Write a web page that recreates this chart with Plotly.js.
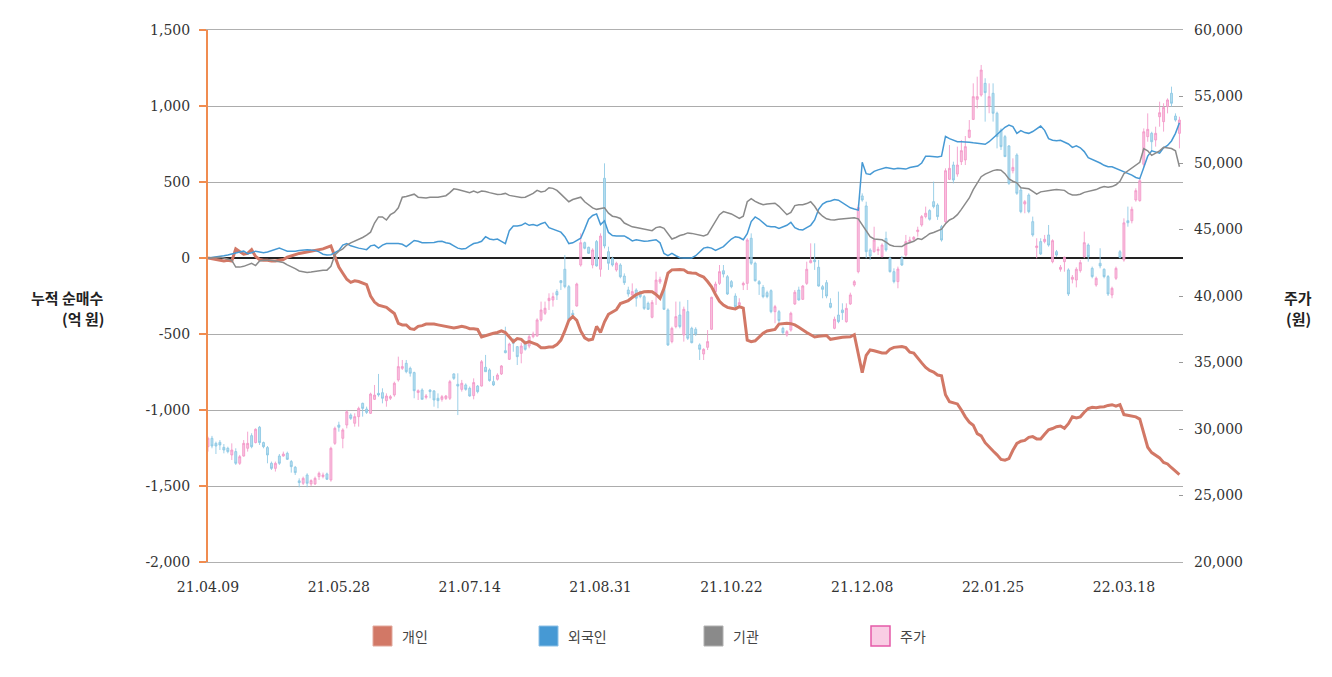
<!DOCTYPE html>
<html>
<head>
<meta charset="utf-8">
<script src="https://cdn.plot.ly/plotly-3.0.1.min.js"></script>
<style>html,body{margin:0;padding:0;background:#fff;}#chart{width:1332px;height:677px;}</style>
</head>
<body>
<div id="chart"></div>
<script>
// ---- data ----
const seriesNames = ['개인', '외국인', '기관', '주가'];
const tickIndex = [0, 33, 66, 99, 132, 165, 198, 231];
const tickDates = ['21.04.09', '21.05.28', '21.07.14', '21.08.31', '21.10.22', '21.12.08', '22.01.25', '22.03.18'];
const netTicks = [-2000, -1500, -1000, -500, 0, 500, 1000, 1500];
const netTickText = ['-2,000', '-1,500', '-1,000', '-500', '0', '500', '1,000', '1,500'];
const leftTitle = ['누적 순매수', '(억 원)'];
const rightTitle = ['주가', '(원)'];

// cumulative net buying (억 원), one value per trading day
const individual = [
0,-5,-15,-15,-20,-15,-20,60,45,25,
30,55,10,-10,-15,-15,-20,-20,-15,-10,
5,15,25,30,35,40,45,50,55,60,
70,80,10,-60,-100,-140,-160,-150,-155,-165,
-175,-250,-290,-310,-315,-325,-345,-365,-430,-440,
-440,-465,-470,-450,-445,-435,-435,-435,-440,-445,
-450,-455,-460,-455,-450,-455,-465,-465,-470,-520,
-510,-500,-495,-490,-480,-490,-520,-550,-530,-535,
-560,-550,-560,-570,-590,-590,-585,-585,-570,-540,
-480,-410,-385,-410,-480,-525,-540,-535,-450,-490,
-420,-370,-355,-340,-300,-290,-280,-260,-240,-230,
-222,-220,-222,-240,-265,-200,-100,-78,-75,-75,
-78,-95,-98,-100,-115,-125,-155,-190,-240,-285,
-310,-325,-330,-335,-320,-330,-540,-550,-545,-520,
-495,-480,-475,-470,-435,-432,-430,-432,-440,-455,
-475,-490,-505,-520,-515,-512,-510,-535,-530,-528,
-522,-520,-518,-505,-640,-755,-640,-605,-610,-618,
-625,-625,-600,-588,-585,-582,-590,-620,-625,-660,
-690,-720,-740,-750,-770,-775,-900,-945,-955,-960,
-1000,-1045,-1080,-1100,-1155,-1170,-1215,-1245,-1270,-1295,
-1325,-1330,-1320,-1265,-1220,-1205,-1200,-1180,-1175,-1190,
-1190,-1160,-1130,-1122,-1110,-1105,-1120,-1090,-1045,-1052,
-1045,-1015,-990,-982,-985,-980,-978,-970,-965,-975,
-965,-1030,-1035,-1035,-1045,-1060,-1150,-1245,-1280,-1295,
-1315,-1345,-1355,-1380,-1400,-1425
];
const foreign = [
0,3,5,10,15,20,28,35,40,45,
28,35,45,40,35,40,50,60,65,55,
45,45,45,50,55,55,52,50,40,25,
20,22,35,50,85,95,80,70,65,60,
55,80,85,65,85,95,95,95,95,90,
75,95,115,110,100,100,100,102,108,110,
100,95,80,65,60,62,80,95,100,110,
140,125,120,125,110,95,180,210,210,215,
230,215,220,212,225,235,200,190,185,170,
140,95,100,115,130,190,255,280,290,220,
245,168,148,145,145,145,130,112,120,115,
110,112,118,120,100,30,15,30,15,2,
0,0,0,15,40,65,70,65,50,60,
75,100,125,140,135,120,160,240,270,255,
230,210,205,205,195,205,215,235,200,188,
185,200,215,250,320,355,370,375,385,380,
365,345,330,322,315,630,555,550,570,580,
585,595,590,585,590,588,585,595,600,605,
625,670,670,668,665,670,800,785,775,765,
765,765,762,758,755,750,748,765,790,815,
835,860,875,865,820,838,825,820,832,850,
868,840,785,775,772,775,765,750,728,738,
725,700,660,648,640,625,610,600,600,590,
575,565,555,545,530,522,595,670,705,695,
690,725,740,770,820,890
];
const institution = [
0,3,5,5,0,-10,-15,-60,-60,-55,
-45,-35,-50,-20,-15,-15,-15,-20,-25,-30,
-45,-55,-70,-85,-92,-95,-92,-88,-80,-80,
-80,-55,20,45,60,85,100,110,125,135,
150,170,230,270,270,250,285,300,330,400,
405,410,420,400,395,395,400,400,400,405,
410,430,455,450,445,440,430,440,430,440,
438,430,425,418,420,425,412,408,405,398,
400,410,425,445,435,440,462,458,445,420,
395,370,385,395,400,370,350,330,320,325,
330,295,275,270,260,230,215,205,200,195,
185,182,180,200,205,195,160,125,135,148,
155,165,162,155,148,145,155,200,245,285,
305,300,290,275,260,275,370,390,372,360,
350,355,358,360,340,310,285,300,345,350,
350,358,370,340,300,275,258,252,250,255,
258,262,265,265,258,220,175,140,125,122,
120,105,85,78,75,75,92,100,110,128,
122,140,160,168,180,190,225,250,262,285,
320,355,395,450,490,535,552,565,575,580,
578,555,520,505,495,462,460,455,438,420,
435,440,445,448,450,448,445,425,415,415,
420,432,438,440,450,462,470,465,470,482,
505,555,575,595,615,630,720,705,675,690,
705,728,725,720,705,600
];

// stock price (원): open, high, low, close per trading day
const priceOpen = [
28670,29300,28920,29000,28620,28550,28050,28300,27420,27970,
28550,29500,28980,30130,28980,28600,27420,27040,27970,27970,
28170,27550,27120,26100,25920,26540,25870,25870,26420,26420,
26620,26170,28920,30300,29300,30300,31050,30430,30930,31930,
31500,31180,32230,32680,32730,32130,32310,32560,33690,34560,
34940,34560,34240,32740,32930,32380,32930,32860,32310,32230,
32300,32310,34140,33360,32980,33310,33060,32510,33230,33230,
34640,34440,33560,33740,34140,35890,35240,36690,36190,35690,
36490,36240,36940,36990,38200,38700,39650,39700,40330,41150,
42010,40700,38700,39250,42330,44010,43660,42330,44090,42010,
48850,43330,42830,41960,42330,41500,40450,40080,40450,40330,
39950,39450,38400,40200,41050,40500,38950,36570,37700,38570,
37070,38820,37570,37500,36320,35640,36140,37500,40330,40950,
41900,41450,41080,40000,39330,40830,40950,44340,42460,41080,
40650,40250,40400,38820,38820,37570,37070,37440,39400,40450,
39750,40950,42500,42710,42160,40700,41000,39450,37570,38570,
38950,38070,39400,40830,41830,47520,46770,43460,43330,43410,
42960,44330,42840,41830,41080,42840,43080,44090,44260,44840,
45340,45970,46420,47090,46840,45210,45590,48770,49850,49170,
50100,50230,51930,53280,54790,55110,55990,54290,55240,53740,
52480,51980,51280,49420,50600,47970,46920,47590,45590,43640,
44090,44090,44590,42580,43330,42010,42580,41960,41260,41200,
41910,42960,43830,42080,40830,42460,42010,41460,40080,41330,
43330,42710,45660,45660,47220,47170,49900,51980,52230,51730,
53480,53110,54240,55240,53530,52230
];
const priceHigh = [
29420,29480,29050,29170,28870,28670,28920,28550,28050,29170,
29800,29680,30050,30230,29050,28720,27550,27550,28120,28300,
28300,27670,27220,26290,26420,26670,26220,26420,26800,26720,
26720,28670,30180,30550,30050,31430,31180,31180,31680,31980,
31680,32730,33310,34140,33060,32680,32560,33560,35440,35190,
35190,34690,34310,32980,33060,32630,32980,32930,32680,32560,
32560,33690,34190,34190,33690,33430,33190,33810,33310,35190,
35570,34560,33990,34190,34810,37690,36490,36820,36240,36490,
36640,37070,37320,38320,39580,39580,40200,40250,40500,41200,
43080,40830,38950,41000,44710,44090,43710,43590,44210,44710,
49975,43710,42960,42580,42460,41700,40700,40950,40580,40400,
40080,39580,39700,41830,41450,40700,39070,37690,39580,39580,
39200,39700,37690,37650,36440,36070,37440,39950,41080,42330,
42330,41580,41200,40200,39830,41080,44340,44710,42580,41200,
40830,40400,40500,39330,38950,37690,37440,38820,40450,40700,
40830,42580,43960,43960,42710,40830,41200,39830,38450,40330,
39450,39450,40250,41200,46900,47720,47090,43590,45210,43710,
43960,44840,42960,42080,42210,43010,44590,44460,44510,45210,
46090,46720,46520,48600,46970,45340,49600,51350,50100,51230,
51730,52030,53230,55990,56490,57370,56370,55990,55990,53860,
52610,52110,51350,50350,50730,48220,47220,47720,45970,44340,
44340,44590,45340,44260,43460,42330,42960,42080,41580,42160,
42710,44840,43960,42210,41460,43590,42080,41580,40700,42210,
43460,45840,46720,46720,48100,48850,52600,53730,52350,52730,
54610,54490,54860,55740,53730,53480
];
const priceLow = [
28300,28550,28120,28420,28170,28170,27670,27300,27300,27920,
28300,28550,28920,28800,28550,27420,26920,26800,27300,27920,
27670,26720,26540,25620,25790,25620,25720,25790,26170,26290,
26170,26040,28800,29800,28550,30050,30680,30180,30180,30930,
31130,31130,32180,32430,31930,31680,32180,32430,33560,34440,
34190,33940,32310,32180,32230,32230,32310,31680,31560,32060,
32180,32180,33690,31050,32810,32880,32430,32230,32680,33190,
34310,33560,33230,33640,34060,35690,35190,35810,34810,34940,
35890,36070,36820,36940,38070,38570,38950,39200,39700,40450,
40580,38070,38450,39200,42210,43510,43160,42080,42210,41450,
43580,41960,42210,41830,41330,40830,39950,39950,39200,39830,
38950,38950,38320,39330,40900,38950,36240,36440,37570,37570,
36570,36690,36440,37000,35190,35190,35940,37450,40080,40830,
41400,40080,40580,39070,39070,40450,40450,42330,41080,40080,
39830,39830,38700,37950,37820,37150,36940,37320,39330,39650,
39700,40830,42460,41960,40700,39830,39830,39070,37500,37950,
38200,37990,39330,40700,41700,47090,42830,42710,43260,43080,
42910,43330,41760,40950,40580,42260,42960,43960,44160,44460,
45210,45840,45670,46590,45720,44090,45460,48720,48470,48970,
49850,49850,51860,53230,54110,54990,53110,53740,53110,51100,
50980,50480,48350,49220,47600,46220,46220,46220,44460,42830,
43080,43960,43710,42460,42960,41830,41830,40000,40950,40650,
41760,42840,42580,41330,40700,42080,41330,40000,39830,41200,
42830,42580,45210,45460,47090,47090,49700,51600,50850,51230,
52730,52360,53730,54240,53110,51100
];
const priceClose = [
29300,28720,28720,28800,28420,28300,28420,27420,27920,28920,
28920,28670,29980,28980,28670,28050,27040,27420,27420,28120,
27720,27170,26720,25970,26290,25920,26120,26290,26670,26540,
26220,28550,30050,30130,29930,31300,30800,30930,31550,31550,
31250,32630,32550,32560,32310,32480,32430,33440,34690,34690,
34310,34190,32880,32880,32230,32480,32810,32180,32130,32430,
32480,33560,33810,33230,33440,32980,32480,33490,32810,35060,
34310,33640,33310,34060,34740,35740,36390,36440,35440,36240,
35990,36940,37140,38200,38950,39080,39830,39950,40080,41000,
40700,38250,38570,40900,44010,43590,43210,43460,42260,44510,
43760,42460,42330,42460,41450,41000,40150,40330,39830,39950,
39070,39000,39520,41200,41250,39000,36320,37570,38450,37700,
39000,36820,36490,37150,35990,35990,36570,39900,40900,41830,
41650,40150,40700,39200,39500,40950,44210,42460,41150,40900,
39950,39950,38820,39200,38150,37240,37320,38700,40280,39700,
40750,42010,42660,42580,40750,40500,40000,39150,38250,38070,
38750,39070,40080,41080,46650,47220,43330,43010,44210,43510,
43830,43460,41830,41080,42030,42330,44090,44210,44410,44960,
45970,46220,45770,46720,45970,44210,49420,49600,48720,49850,
50930,51230,52480,54990,54990,56990,55290,54990,53740,51980,
51230,50480,48470,49670,47720,46340,47090,46340,44590,43760,
43160,44260,43830,44160,43080,42160,42910,40150,41410,42010,
42510,44010,42960,41460,41330,42260,41460,40150,40580,42080,
42900,45500,45510,46520,47920,48670,52350,52530,51600,52230,
53780,54180,54740,54490,53230,53230
];

// ---- chart ----
const dayIndex = priceClose.map((_, i) => i);
const L = 208, R = 1183, T = 30, B = 562, W = 1332, H = 677;
const px2x = px => (px - L) / (R - L);
const py2y = py => (B - py) / (B - T);

const lineColors = ['#d27866', '#4699d4', '#8a8a8a'];
const lineWidths = [3, 1.5, 1.5];

const traces = [
  {
    type: 'candlestick', name: seriesNames[3], x: dayIndex,
    open: priceOpen, high: priceHigh, low: priceLow, close: priceClose,
    xaxis: 'x', yaxis: 'y',
    increasing: {line: {color: 'rgba(243,150,200,0.85)', width: 1}, fillcolor: 'rgba(247,184,218,0.85)'},
    decreasing: {line: {color: 'rgba(140,200,228,0.85)', width: 1}, fillcolor: 'rgba(172,216,236,0.85)'},
    whiskerwidth: 0, showlegend: false, hoverinfo: 'skip'
  },
  ...[individual, foreign, institution].map((arr, k) => ({
    type: 'scatter', mode: 'lines', name: seriesNames[k], x: dayIndex, y: arr,
    xaxis: 'x', yaxis: 'y2',
    line: {color: lineColors[k], width: lineWidths[k]},
    showlegend: false, hoverinfo: 'skip'
  }))
];

const tickFont = {family: '"DejaVu Serif", serif', size: 14, color: '#333'};
const titleFont = {family: '"Noto Sans CJK KR", sans-serif', size: 15, color: '#222', weight: 'bold'};

// custom legend (square swatches)
const swatchLeft = [373, 539, 704, 871];
const swatchFill = ['#d27866', '#4699d4', '#8a8a8a', '#f9cde4'];
const swatchLine = ['#e2a89c', '#8cc0e6', '#b0b0b0', '#e55aa8'];
const shapes = swatchLeft.map((lx, k) => ({
  type: 'rect', xref: 'paper', yref: 'paper',
  x0: px2x(lx), x1: px2x(lx + 19), y0: py2y(646), y1: py2y(626),
  fillcolor: swatchFill[k], line: {color: swatchLine[k], width: k === 3 ? 1.5 : 1}
}));
const annotations = swatchLeft.map((lx, k) => ({
  xref: 'paper', yref: 'paper', x: px2x(lx + 27), y: py2y(636),
  xanchor: 'left', yanchor: 'middle', showarrow: false, text: seriesNames[k],
  font: {family: '"Noto Sans CJK KR", sans-serif', size: 14, color: '#444'}
}));
// axis titles, one annotation per line
const titleRows = [297, 319];
leftTitle.forEach((t, k) => annotations.push({
  xref: 'paper', yref: 'paper', x: px2x(106), y: py2y(titleRows[k]), xanchor: 'right', yanchor: 'middle',
  showarrow: false, text: t, font: titleFont
}));
rightTitle.forEach((t, k) => annotations.push({
  xref: 'paper', yref: 'paper', x: px2x(1298), y: py2y(titleRows[k]), xanchor: 'center', yanchor: 'middle',
  showarrow: false, text: t, font: titleFont
}));

const layout = {
  width: W, height: H,
  margin: {l: L, r: W - R, t: T, b: H - B, pad: 0},
  paper_bgcolor: '#fff', plot_bgcolor: '#fff',
  showlegend: false, dragmode: false, hovermode: false,
  xaxis: {
    range: [0, 245.9], fixedrange: true,
    tickmode: 'array', tickvals: tickIndex, ticktext: tickDates,
    showgrid: false, zeroline: false, showline: true, mirror: true,
    linecolor: '#b0b0b0', linewidth: 1, ticks: '', tickfont: tickFont,
    ticklabelstandoff: 12, rangeslider: {visible: false}
  },
  yaxis: {
    side: 'right', range: [20000, 60000], dtick: 5000, tickformat: ',',
    showgrid: false, zeroline: false, showline: false,
    ticks: 'inside', ticklen: 4, tickcolor: '#999', tickfont: tickFont,
    ticklabelstandoff: 10, fixedrange: true
  },
  yaxis2: {
    overlaying: 'y', side: 'left', range: [-2000, 1500],
    tickmode: 'array', tickvals: netTicks, ticktext: netTickText,
    showgrid: true, gridcolor: '#acacac', gridwidth: 1,
    zeroline: true, zerolinecolor: '#222', zerolinewidth: 1.5,
    showline: true, linecolor: '#f08c50', linewidth: 2,
    ticks: 'outside', ticklen: 7, tickwidth: 1.5, tickcolor: '#f08c50',
    tickfont: tickFont, ticklabelstandoff: 6, fixedrange: true
  },
  shapes: shapes,
  annotations: annotations
};

Plotly.newPlot('chart', traces, layout, {displayModeBar: false, staticPlot: true});
</script>
</body>
</html>
